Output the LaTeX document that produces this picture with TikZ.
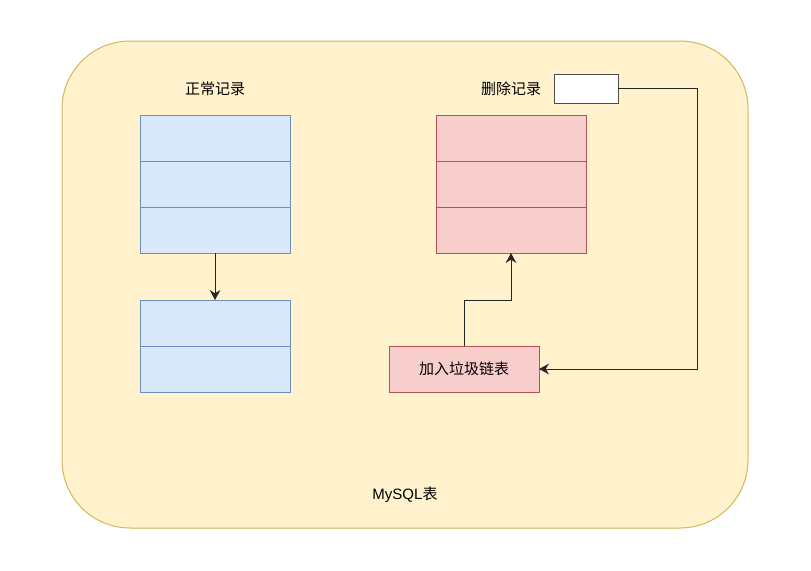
\documentclass[tikz,border=0pt]{standalone}
\usepackage{fontspec}
\setmainfont{Liberation Sans}
\newfontfamily\cjk{Noto Sans CJK SC}
\usetikzlibrary{positioning, arrows.meta}

\definecolor{tablefill}{HTML}{FFF2CC}
\definecolor{tableline}{HTML}{D6B656}
\definecolor{normfill}{HTML}{DAE8FC}
\definecolor{normline}{HTML}{6C8EBF}
\definecolor{delfill}{HTML}{F8CECC}
\definecolor{delline}{HTML}{B85450}

\begin{document}
\begin{tikzpicture}[x=0.75pt, y=-0.75pt, node distance=0pt,
    normrow/.style={draw=normline, fill=normfill, line width=0.75pt, minimum width=112.5pt, minimum height=34.5pt, inner sep=0pt, outer sep=0pt},
    delrow/.style={draw=delline, fill=delfill, line width=0.75pt, minimum width=112.5pt, minimum height=34.5pt, inner sep=0pt, outer sep=0pt},
    caption/.style={font=\fontsize{11.25pt}{13pt}\selectfont, inner sep=0pt},
    link/.style={draw=black!85, line width=0.75pt, -{Stealth[length=7.5pt, width=8pt, inset=2.5pt]}}]
    \path[use as bounding box] (0,0) rectangle (811,571);

    % MySQL table
    \draw[fill=tablefill, draw=tableline, line width=0.75pt, rounded corners=51pt] (62,41) rectangle (748,528);
    \node[caption] (tablelabel) at (405,495) {MySQL{\cjk 表}};

    % Normal records
    \node[caption] (normlabel) at (215,89) {\cjk 正常记录};
    \node[normrow] (n1) at (215,138) {};
    \node[normrow, below=of n1] (n2) {};
    \node[normrow, below=of n2] (n3) {};
    \node[normrow] (m1) at (215,323) {};
    \node[normrow, below=of m1] (m2) {};

    \draw[link] (n3) -- (m1);

    % Deleted records
    \node[caption] (dellabel) at (511,89) {\cjk 删除记录};
    \node[draw=black!70, fill=white, line width=0.75pt, minimum width=48pt, minimum height=21.75pt, inner sep=0pt, outer sep=0pt] (freeptr) at (586,88.5) {};
    \node[delrow] (d1) at (511,138) {};
    \node[delrow, below=of d1] (d2) {};
    \node[delrow, below=of d2] (d3) {};
    \node[delrow, caption, minimum width=112.5pt, minimum height=34.5pt] (garbage) at (464,369) {\cjk 加入垃圾链表};

    \draw[link] (garbage.north) -- ++(0,-46) -| (d3.south);
    \draw[link] (freeptr.east) -- ++(79,0) |- (garbage.east);
\end{tikzpicture}
\end{document}
